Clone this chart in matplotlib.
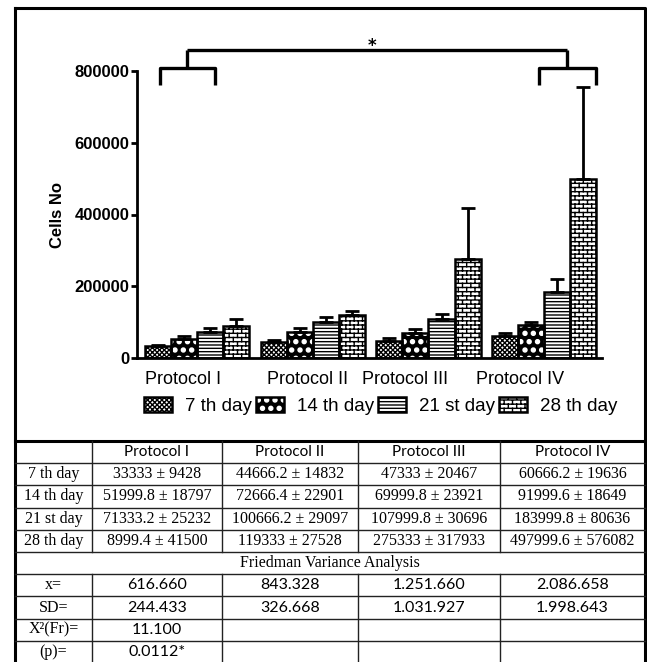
import warnings
warnings.filterwarnings("ignore")
import numpy as np
import matplotlib
matplotlib.use("Agg")
import matplotlib.pyplot as plt
import matplotlib.hatch as mhatch
from matplotlib.path import Path
from matplotlib.transforms import ScaledTranslation
from matplotlib.legend_handler import HandlerTuple

# ---------------- data ----------------
protocols = ["Protocol I", "Protocol II", "Protocol III", "Protocol IV"]
days = ["7 th day", "14 th day", "21 st day", "28 th day"]

day7 = [33333, 44666.2, 47333, 60666.2]
day14 = [51999.8, 72666.4, 69999.8, 91999.6]
day21 = [71333.2, 100666.2, 107999.8, 183999.8]
day28 = [89999.4, 119333, 275333, 497999.6]

err7 = [4216, 6633, 9153, 8781]
err14 = [8406, 10242, 10698, 8340]
err21 = [11284, 13013, 13728, 36061]
err28 = [18559, 12311, 142184, 257632]

yticks = [0, 200000, 400000, 600000, 800000]
ytick_labels = ["0", "200000", "400000", "600000", "800000"]

table_header = ["", "Protocol I", "Protocol II", "Protocol III", "Protocol IV"]
row_7 = ["7 th day", "33333 ± 9428", "44666.2 ± 14832", "47333 ± 20467", "60666.2 ± 19636"]
row_14 = ["14 th day", "51999.8 ± 18797", "72666.4 ± 22901", "69999.8 ± 23921", "91999.6 ± 18649"]
row_21 = ["21 st day", "71333.2 ± 25232", "100666.2 ± 29097", "107999.8 ± 30696", "183999.8 ± 80636"]
row_28 = ["28 th day", "8999.4 ± 41500", "119333 ± 27528", "275333 ± 317933", "497999.6 ± 576082"]
friedman_title = "Friedman Variance Analysis"
row_x = ["x=", "616.660", "843.328", "1.251.660", "2.086.658"]
row_sd = ["SD=", "244.433", "326.668", "1.031.927", "1.998.643"]
row_chi = ["X²(Fr)=", "11.100", "", "", ""]
row_p = ["(p)=", "0.0112*", "", "", ""]
sig_label = "*"

# ---------------- custom hatches ----------------
class BrickHatch(mhatch.HatchPatternBase):
    def __init__(self, hatch, density):
        self.num_rows = hatch.count('*') * density
        self.num_cols = self.num_rows // 2
        if self.num_rows == 0:
            self.num_vertices = 0
        else:
            self.num_vertices = (self.num_rows + 1) * 2 + self.num_rows * self.num_cols * 2

    def set_vertices_and_codes(self, vertices, codes):
        n, m = self.num_rows, self.num_cols
        k = 0
        for i in range(n + 1):
            y = i / n
            vertices[k] = (0, y); vertices[k + 1] = (1, y)
            codes[k] = Path.MOVETO; codes[k + 1] = Path.LINETO
            k += 2
        for i in range(n):
            shift = 0.5 / m if i % 2 else 0.0
            for j in range(m):
                x = j / m + shift
                vertices[k] = (x, i / n); vertices[k + 1] = (x, (i + 1) / n)
                codes[k] = Path.MOVETO; codes[k + 1] = Path.LINETO
                k += 2

mhatch._hatch_types = [BrickHatch if t is mhatch.Stars else t for t in mhatch._hatch_types]
mhatch.LargeCircles.filled = True
mhatch.LargeCircles.size = 0.24

plt.rcParams['hatch.linewidth'] = 1.0

# ---------------- figure ----------------
W, H = 647, 662
fig = plt.figure(figsize=(W / 100, H / 100), dpi=100)
fig.patch.set_facecolor("white")

ov = fig.add_axes([0, 0, 1, 1], zorder=0)
ov.set_xlim(0, W)
ov.set_ylim(H, 0)
ov.axis("off")
ov.patch.set_alpha(0)

ax = fig.add_axes([137 / W, 1 - 358 / H, 465 / W, 287 / H], zorder=2)
ax.patch.set_alpha(0)

series = [day7, day14, day21, day28]
errors = [err7, err14, err21, err28]
styles = [
    dict(face="white", hatch="xxxxxxx", hcol="black"),
    dict(face="black", hatch="OO", hcol="white"),
    dict(face="white", hatch="-----", hcol="black"),
    dict(face="white", hatch="****", hcol="black"),
]
w = 0.226
xg = np.arange(len(protocols))
handles = []
for j, (vals, errs, st) in enumerate(zip(series, errors, styles)):
    xs = xg + (j - 1.5) * w
    b1 = ax.bar(xs, vals, width=w, color=st["face"], edgecolor=st["hcol"],
                hatch=st["hatch"], linewidth=0, zorder=2)
    b2 = ax.bar(xs, vals, width=w, fill=False, edgecolor="black",
                linewidth=1.8, zorder=3)
    ax.errorbar(xs, vals, yerr=[np.zeros(len(vals)), errs], fmt="none",
                ecolor="black", elinewidth=2, capsize=5, capthick=2, zorder=4)
    handles.append((b1, b2))

ax.set_xlim(-0.52, 3.5)
ax.set_ylim(0, 800000)
for s in ["top", "right"]:
    ax.spines[s].set_visible(False)
for s in ["left", "bottom"]:
    ax.spines[s].set_linewidth(2)
ax.set_yticks(yticks)
ax.set_yticklabels(ytick_labels, fontsize=12, fontweight="bold", family="Liberation Sans")
ax.tick_params(axis="y", length=4, width=2, pad=1.5)
ax.set_xticks(xg)
ax.set_xticklabels(protocols, fontsize=13, family="Liberation Sans")
ax.tick_params(axis="x", length=0, pad=9)
label_nudge_px = [-14, -5, -23, -24]
for lbl, dx in zip(ax.get_xticklabels(), label_nudge_px):
    lbl.set_transform(lbl.get_transform() + ScaledTranslation(dx / 100, 0, fig.dpi_scale_trans))
ax.set_ylabel("Cells No", fontsize=12, fontweight="bold", family="Liberation Sans", labelpad=7)

# significance bracket
yb_leg, yb_low, yb_top = 761000, 808000, 858500
left_br = (-0.32, 0.156, -0.086)
right_br = (2.957, 3.45, 3.2)
kw = dict(color="black", lw=2.4, clip_on=False, solid_capstyle="butt", zorder=5)
for a, b, c in [left_br, right_br]:
    ax.plot([a, a, b, b], [yb_leg, yb_low, yb_low, yb_leg], **kw)
    ax.plot([c, c], [yb_low, yb_top], **kw)
ax.plot([left_br[2], right_br[2]], [yb_top, yb_top], **kw)
ax.text(1.51, 870000, sig_label, ha="center", va="center", fontsize=12,
        fontweight="bold", clip_on=False)

fig.legend(handles, days, loc="center", bbox_to_anchor=(381 / W, 1 - 406 / H),
           ncol=4, frameon=False, prop=dict(family="Liberation Sans", size=13.5),
           handlelength=1.5, handleheight=0.85, handletextpad=0.7, columnspacing=0.2,
           handler_map={tuple: HandlerTuple(ndivide=1)})

# ---------------- frame & table ----------------
thick = 2.2
thin = 1.0
ov.plot([15, 645, 645], [8, 8, H + 5], color="black", lw=thick, solid_capstyle="projecting")
ov.plot([15, 15], [8, H + 5], color="black", lw=thick)
ov.plot([15, 645], [441, 441], color="black", lw=thick)

col_edges = [15, 92, 222, 358, 500, 645]
rh = 22.2
row_tops = [441 + i * rh for i in range(11)]
for y in row_tops[1:]:
    ov.plot([15, 645], [y, y], color="#222222", lw=thin)
fr_top, fr_bot = row_tops[5], row_tops[6]
for x in col_edges[1:-1]:
    ov.plot([x, x], [441, fr_top], color="#222222", lw=thin)
    ov.plot([x, x], [fr_bot, H + 5], color="#222222", lw=thin)

centers = [(col_edges[i] + col_edges[i + 1]) / 2 for i in range(5)]
serif = "Liberation Serif"
sans = "Lato"

def put_row(vals, yc, first_font, rest_font, size=11.5):
    for i, (v, xc) in enumerate(zip(vals, centers)):
        ov.text(xc, yc, v, ha="center", va="center", fontsize=size,
                family=first_font if i == 0 else rest_font)

put_row(table_header, row_tops[0] + rh / 2, sans, sans, 11)
for k, r in enumerate([row_7, row_14, row_21, row_28]):
    put_row(r, row_tops[1 + k] + rh / 2, serif, serif)
ov.text((15 + 645) / 2, fr_top + rh / 2, friedman_title, ha="center", va="center",
        fontsize=11.5, family=serif)
for k, r in enumerate([row_x, row_sd, row_chi, row_p]):
    put_row(r, row_tops[6 + k] + rh / 2, serif, sans)

fig.savefig("out.png", dpi=100)
